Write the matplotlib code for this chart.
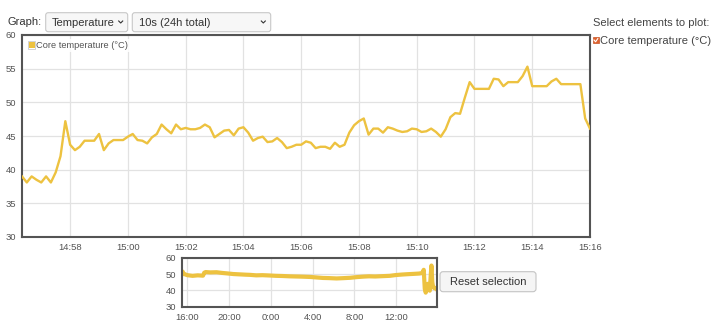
import matplotlib
matplotlib.use("Agg")
import matplotlib.pyplot as plt
import matplotlib.dates as mdates
from matplotlib.patches import Rectangle, FancyBboxPatch
import pandas as pd

plt.rcParams['font.family'] = ['Liberation Sans', 'DejaVu Sans']

series_name = "Core temperature (°C)"
start_time = "2020-01-01 14:56:20"
sample_step = "10s"

# core temperature, one sample every 10 s
core_temp = [39.0, 38.1, 39.0, 38.5, 38.1, 39.0, 38.1, 39.6, 42.0, 47.2,
             43.7, 42.9, 43.4, 44.3, 44.3, 44.3, 45.3, 42.9, 43.9, 44.4,
             44.4, 44.4, 44.9, 45.3, 44.4, 44.3, 43.9, 44.8, 45.3, 46.7,
             46.0, 45.4, 46.7, 46.0, 46.2, 46.0, 46.0, 46.2, 46.7, 46.3,
             44.8, 45.3, 45.8, 45.9, 45.1, 46.1, 46.3, 45.5, 44.3, 44.7,
             44.9, 44.1, 44.2, 44.7, 44.1, 43.2, 43.4, 43.7, 43.7, 44.2,
             44.0, 43.2, 43.4, 43.4, 43.1, 44.0, 43.4, 43.7, 45.5, 46.6,
             47.2, 47.6, 45.2, 46.1, 46.1, 45.5, 46.3, 46.1, 45.8, 45.6,
             45.7, 46.1, 46.0, 45.6, 45.7, 46.1, 45.6, 44.9, 46.0, 47.8,
             48.4, 48.3, 50.7, 53.0, 52.0, 52.0, 52.0, 52.0, 53.5, 53.4,
             52.4, 53.0, 53.0, 53.0, 53.9, 55.3, 52.4, 52.4, 52.4, 52.4,
             53.1, 53.5, 52.7, 52.7, 52.7, 52.7, 52.7, 47.6, 46.1]
main_yticks = [30, 35, 40, 45, 50, 55, 60]

# overview (24h), hours after 16:00 of the first day
overview_hours = [-0.54, -0.45, -0.38, 0.0, 0.5, 1.0, 1.5, 1.62, 1.75, 2.2,
                  2.8, 3.3, 3.8, 4.4, 5.0, 5.6, 6.0, 6.6, 7.2, 7.9,
                  8.5, 9.1, 9.8, 10.4, 11.0, 11.8, 12.4, 13.0, 13.6, 14.3,
                  15.0, 15.6, 16.2, 16.8, 17.4, 18.0, 18.7, 19.4, 20.0, 20.6,
                  21.1, 21.7, 22.2, 22.5, 22.65, 22.75, 22.84, 22.95, 23.03, 23.13,
                  23.23, 23.33, 23.39, 23.47, 23.55, 23.7, 23.85, 23.93]
overview_temp = [49.8, 51.5, 50.2, 49.3, 48.9, 49.2, 49.0, 50.8, 51.2, 51.0,
                 51.1, 50.7, 50.4, 50.0, 49.8, 49.6, 49.5, 49.2, 49.3, 49.1,
                 48.9, 48.8, 48.6, 48.5, 48.4, 48.2, 47.9, 47.6, 47.5, 47.3,
                 47.5, 47.7, 48.1, 48.4, 48.6, 48.5, 48.7, 48.9, 49.4, 49.7,
                 49.9, 50.1, 50.3, 50.6, 52.6, 41.0, 38.6, 41.5, 44.0, 40.5,
                 39.8, 50.0, 55.2, 45.0, 42.0, 41.2, 41.6, 40.6]
overview_ticks = [0, 4, 8, 12, 16, 20]
overview_labels = ["16:00", "20:00", "0:00", "4:00", "8:00", "12:00"]
overview_yticks = [30, 40, 50, 60]

W, H = 720, 329
line_color = "#edc240"
frame_color = "#545454"
grid_color = "#e2e2e2"
label_color = "#545454"


def box(x0, y0, x1, y1):
    # pixel box -> figure fractions
    return [x0 / W, 1 - y1 / H, (x1 - x0) / W, (y1 - y0) / H]


fig = plt.figure(figsize=(W / 100, H / 100), dpi=100)

# main chart
ax = fig.add_axes(box(22, 35, 590, 237))
times = pd.date_range(start_time, periods=len(core_temp), freq=sample_step)
ax.plot(times, core_temp, color=line_color, lw=1.7, solid_joinstyle='round', zorder=3)
ax.set_xlim(times[0], times[-1])
ax.set_ylim(30, 60)
ax.set_yticks(main_yticks)
ax.xaxis.set_major_locator(mdates.MinuteLocator(byminute=range(0, 60, 2)))
ax.xaxis.set_major_formatter(mdates.DateFormatter('%H:%M'))
ax.grid(True, color=grid_color, lw=0.9)
ax.tick_params(length=0, labelsize=6.8, labelcolor=label_color)
ax.tick_params(axis='x', pad=4)
ax.tick_params(axis='y', pad=4)
for s in ax.spines.values():
    s.set_color(frame_color)
    s.set_linewidth(1.5)

# overview chart
ax2 = fig.add_axes(box(181.7, 257.7, 437.3, 306.7))
ax2.plot(overview_hours, overview_temp, color=line_color, lw=3.0, solid_joinstyle='round')
ax2.set_xlim(-0.54, 23.95)
ax2.set_ylim(30, 60)
ax2.set_yticks(overview_yticks)
ax2.set_xticks(overview_ticks)
ax2.set_xticklabels(overview_labels)
ax2.grid(True, color=grid_color, lw=0.9)
ax2.tick_params(length=0, labelsize=6.8, labelcolor=label_color)
ax2.tick_params(axis='x', pad=4.5)
ax2.tick_params(axis='y', pad=4)
for s in ax2.spines.values():
    s.set_color(frame_color)
    s.set_linewidth(1.5)

# page widgets drawn in pixel space
ov = fig.add_axes([0, 0, 1, 1])
ov.set_xlim(0, W)
ov.set_ylim(H, 0)
ov.axis('off')
ov.set_zorder(5)

txt = "#333333"
ov.text(7, 22, "Graph:", fontsize=8, color=txt, va='center', ha='left')
for x0, x1, label, cx in [(45.7, 127.7, "Temperature", 120.7),
                          (132.3, 270.7, "10s (24h total)", 263.3)]:
    ov.add_patch(FancyBboxPatch((x0, 12.7), x1 - x0, 19,
                                boxstyle="round,pad=0,rounding_size=2.5",
                                fc="#f7f7f7", ec="#c8c8c8", lw=0.8))
    ov.text(x0 + 6.5, 22.5, label, fontsize=8, color=txt, va='center', ha='left')
    ov.plot([cx - 2, cx, cx + 2], [21, 23, 21], color=txt, lw=0.8)

ov.text(593, 22.5, "Select elements to plot:", fontsize=8, color="#444444",
        va='center', ha='left')
ov.add_patch(Rectangle((592.6, 37), 6.4, 6.4, fc="#e0622e", ec="#c85424", lw=0.5))
ov.plot([594, 595.6, 597.8], [40, 41.8, 38.6], color='white', lw=0.8)
ov.text(600.5, 40.8, series_name, fontsize=8, color="#444444", va='center', ha='left')

# legend inside the main chart
ov.add_patch(Rectangle((26, 38.5), 104, 13.5, fc='white', ec='none', alpha=0.85))
ov.add_patch(Rectangle((27.8, 41.2), 7.6, 7.6, fc='white', ec='#cccccc', lw=0.6))
ov.add_patch(Rectangle((28.6, 42), 6, 6, fc=line_color, ec='none'))
ov.text(36.5, 45.3, series_name, fontsize=6.7, color=label_color, va='center', ha='left')

# reset button
ov.add_patch(FancyBboxPatch((440, 271.7), 96, 20,
                            boxstyle="round,pad=0,rounding_size=3",
                            fc="#f5f5f5", ec="#c4c4c4", lw=0.8))
ov.text(488, 282, "Reset selection", fontsize=8, color=txt, va='center', ha='center')

fig.savefig("out.png", dpi=100)
